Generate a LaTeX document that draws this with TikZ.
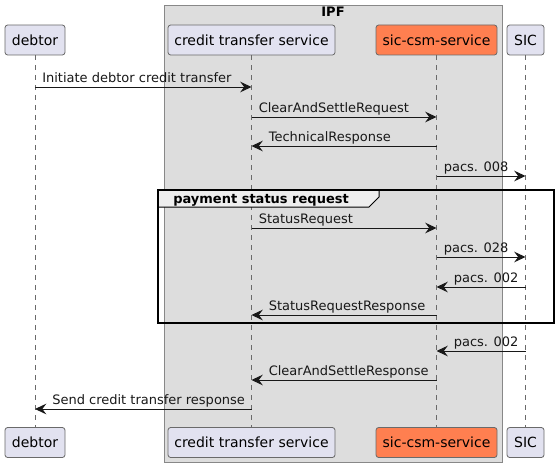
\documentclass[tikz,border=0pt]{standalone}
\usepackage{fontspec}
\setmainfont{DejaVu Sans}
\usetikzlibrary{arrows.meta}
\definecolor{partfill}{HTML}{E2E2F0}
\definecolor{partline}{HTML}{181818}
\definecolor{partborder}{HTML}{6A6A6A}
\definecolor{coral}{HTML}{FF7F50}
\definecolor{boxfill}{HTML}{DDDDDD}
\definecolor{boxline}{HTML}{888888}
\definecolor{grpfill}{HTML}{EEEEEE}
\tikzset{
  part/.style={draw=partborder, fill=partfill, rounded corners=2pt, line width=0.6pt,
    minimum height={30*0.75pt}, inner sep=0pt, font=\fontsize{10.5}{12}\selectfont, text=black},
  lifeline/.style={draw=partborder, line width=0.6pt, dash pattern=on 3.75pt off 3.75pt},
  msg/.style={draw=partline, line width=0.75pt, -{Stealth[length=8.5pt,width=8pt,inset=3pt]}},
  lbl/.style={font=\fontsize{9.75}{11}\selectfont, inner sep=0pt, text=partline, anchor=base west},
}
\begin{document}
\begin{tikzpicture}[x=0.75pt, y=-0.75pt]
\useasboundingbox (0,0) rectangle (559,467);
% IPF box
\draw[draw=boxline, fill=boxfill, line width=0.75pt] (164,6) rectangle (502,462);
\node[font=\bfseries\fontsize{9.75}{11}\selectfont, anchor=base, inner sep=0pt] (ipft) at (333,17) {IPF};
% participants top
\node[part, minimum width={60*0.75pt}] (dt) at (35,40) {debtor};
\node[part, minimum width={167*0.75pt}] (cts) at (251.5,40) {credit transfer service};
\node[part, minimum width={121*0.75pt}, fill=coral] (csm) at (436.5,40) {sic-csm-service};
\node[part, minimum width={37*0.75pt}] (sic) at (525.5,40) {SIC};
% participants bottom
\node[part, minimum width={60*0.75pt}] (dtb) at (35,442.5) {debtor};
\node[part, minimum width={167*0.75pt}] (ctsb) at (251.5,442.5) {credit transfer service};
\node[part, minimum width={121*0.75pt}, fill=coral] (csmb) at (436.5,442.5) {sic-csm-service};
\node[part, minimum width={37*0.75pt}] (sicb) at (525.5,442.5) {SIC};
% lifelines
\draw[lifeline] (dt.south) -- (dtb.north);
\draw[lifeline] (cts.south) -- (ctsb.north);
\draw[lifeline] (csm.south) -- (csmb.north);
\draw[lifeline] (sic.south) -- (sicb.north);
% group frame
\coordinate (gtl) at (158,190);
\coordinate (gbr) at (554,323);
\draw[fill=grpfill, line width=0.75pt] (158,190) -- (379,190) -- (379,197) -- (369,207) -- (158,207) -- cycle;
\node[font=\bfseries\fontsize{9.75}{11}\selectfont, anchor=base west, inner sep=0pt] (gt) at (173,203) {payment status request};
\draw[line width=1.5pt] (gtl) rectangle (gbr);
% rows
\coordinate (r1) at (0,87);
\coordinate (r2) at (0,117);
\coordinate (r3) at (0,146);
\coordinate (r4) at (0,176);
\coordinate (r5) at (0,228);
\coordinate (r6) at (0,257);
\coordinate (r7) at (0,287);
\coordinate (r8) at (0,315);
\coordinate (r9) at (0,351);
\coordinate (r10) at (0,380);
\coordinate (r11) at (0,409);
% messages
\draw[msg] (dt |- r1) -- (cts |- r1);
\node[lbl] at ([shift={(7,-5)}] dt |- r1) {Initiate debtor credit transfer};
\draw[msg] (cts |- r2) -- (csm |- r2);
\node[lbl] at ([shift={(7,-5)}] cts |- r2) {ClearAndSettleRequest};
\draw[msg] (csm |- r3) -- (cts |- r3);
\node[lbl] at ([shift={(17,-5)}] cts |- r3) {TechnicalResponse};
\draw[msg] (csm |- r4) -- (sic |- r4);
\node[lbl] at ([shift={(7,-5)}] csm |- r4) {pacs. 008};
\draw[msg] (cts |- r5) -- (csm |- r5);
\node[lbl] at ([shift={(7,-5)}] cts |- r5) {StatusRequest};
\draw[msg] (csm |- r6) -- (sic |- r6);
\node[lbl] at ([shift={(7,-5)}] csm |- r6) {pacs. 028};
\draw[msg] (sic |- r7) -- (csm |- r7);
\node[lbl] at ([shift={(17,-5)}] csm |- r7) {pacs. 002};
\draw[msg] (csm |- r8) -- (cts |- r8);
\node[lbl] at ([shift={(17,-5)}] cts |- r8) {StatusRequestResponse};
\draw[msg] (sic |- r9) -- (csm |- r9);
\node[lbl] at ([shift={(17,-5)}] csm |- r9) {pacs. 002};
\draw[msg] (csm |- r10) -- (cts |- r10);
\node[lbl] at ([shift={(17,-5)}] cts |- r10) {ClearAndSettleResponse};
\draw[msg] (cts |- r11) -- (dt |- r11);
\node[lbl] at ([shift={(17,-5)}] dt |- r11) {Send credit transfer response};
\end{tikzpicture}
\end{document}
